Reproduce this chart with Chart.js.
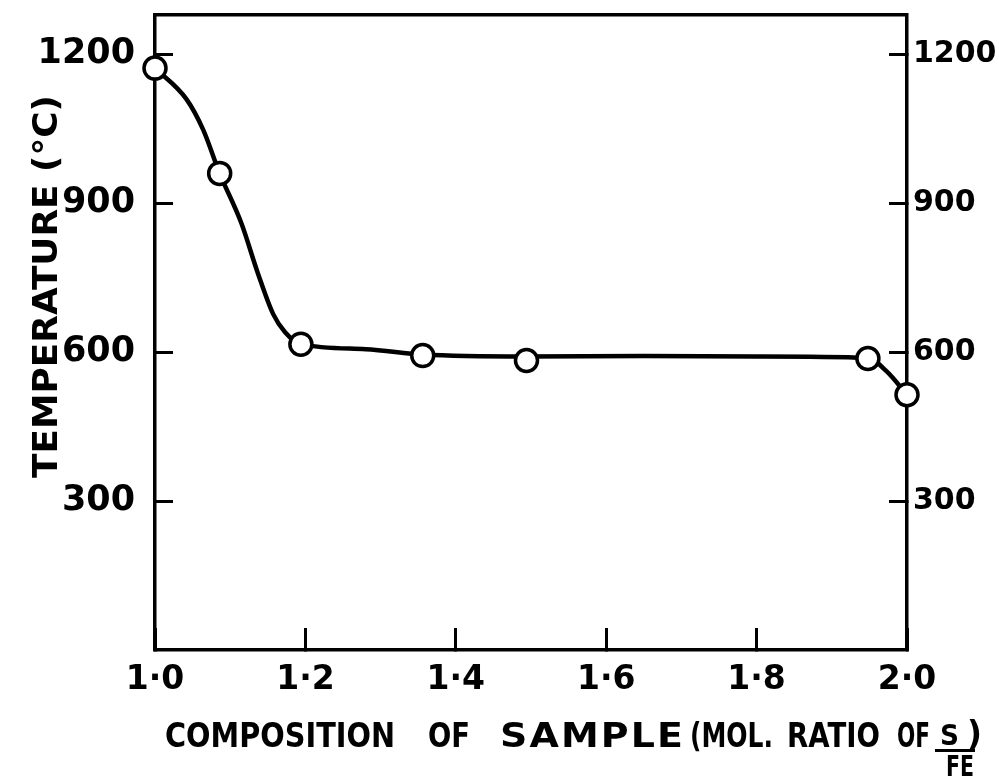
<!DOCTYPE html>
<html>
<head>
<meta charset="utf-8">
<script src="https://cdn.jsdelivr.net/npm/chart.js@4/dist/chart.umd.min.js"></script>
<style>
  html, body { margin: 0; padding: 0; background: #fff; }
  #wrap { width: 999px; height: 781px; }
</style>
</head>
<body>
<div id="wrap"><canvas id="chart" width="999" height="781"></canvas></div>
<script>
// measured samples (open circles)
const ratio = [1.0, 1.086, 1.194, 1.356, 1.494, 1.948, 2.0];
const temperature = [1172, 960, 616, 593, 583, 587, 514];

// course of the hand drawn curve
const curveRatio = [1.0, 1.042, 1.064, 1.086, 1.115, 1.137, 1.157, 1.173, 1.194, 1.28, 1.356, 1.494, 1.65, 1.8, 1.948, 1.973, 2.0];
const curveTemp = [1172, 1109, 1048, 960, 859, 758, 677, 640, 616, 606, 595, 591, 592, 591, 588, 561, 514];

const xTicks = [1.0, 1.2, 1.4, 1.6, 1.8, 2.0];
const xTickLabels = ['1·0', '1·2', '1·4', '1·6', '1·8', '2·0'];
const yTicks = [300, 600, 900, 1200];

const FAMILY = '"DejaVu Sans"';

const titles = {
  id: 'titles',
  afterDraw(chart) {
    const c = chart.ctx;
    // squeeze or widen a word so that it spans x0..x1
    const fit = (t, x0, x1, y, size) => {
      c.font = 'bold ' + size + 'px ' + FAMILY;
      c.letterSpacing = '0px';
      const w = c.measureText(t).width;
      const target = x1 - x0;
      let k = target / w;
      let gap = 0;
      if (k > 1.15 && t.length > 1) {
        k = 1.15;
        gap = (target - w * k) / (t.length - 1) / k;
      }
      c.save();
      c.translate(x0, y);
      c.scale(k, 1);
      c.letterSpacing = gap + 'px';
      c.fillText(t, 0, 0);
      c.restore();
      c.letterSpacing = '0px';
    };
    c.save();
    c.fillStyle = '#000';
    c.textBaseline = 'alphabetic';
    c.textAlign = 'left';

    // y title, bottom to top
    c.save();
    c.translate(57, 478);
    c.rotate(-Math.PI / 2);
    fit('TEMPERATURE (°C)', 0, 383, 0, 33);
    c.restore();

    // x title
    fit('COMPOSITION', 165, 395, 747, 33);
    fit('OF', 428, 470, 747, 33);
    fit('SAMPLE', 500, 683, 747, 33);
    fit('(MOL.', 690, 773, 747, 33);
    fit('RATIO', 787, 880, 747, 33);
    fit('OF', 897, 930, 747, 33);
    fit('S', 940, 959, 745, 28);
    fit('FE', 946, 974, 776, 28);
    fit(')', 967, 982, 745, 33);
    c.fillRect(935, 749, 40, 3);
    c.restore();
  }
};

const tickFont = (size) => ({ family: FAMILY, size: size, weight: 'bold' });
const noPad = s => { s.paddingTop = 0; s.paddingBottom = 0; s.paddingLeft = 0; s.paddingRight = 0; };

const ctx = document.getElementById('chart').getContext('2d');
new Chart(ctx, {
  type: 'scatter',
  data: {
    datasets: [{
      label: 'samples',
      data: ratio.map((x, i) => ({ x: x, y: temperature[i] })),
      showLine: false,
      pointRadius: 11,
      pointBorderWidth: 3.5,
      pointBackgroundColor: '#fff',
      pointBorderColor: '#000',
      clip: false
    }, {
      label: 'curve',
      data: curveRatio.map((x, i) => ({ x: x, y: curveTemp[i] })),
      showLine: true,
      borderColor: '#000',
      borderWidth: 4.5,
      pointRadius: 0,
      cubicInterpolationMode: 'monotone',
      clip: false
    }]
  },
  options: {
    responsive: false,
    animation: false,
    events: [],
    layout: { padding: 0 },
    plugins: { legend: { display: false }, tooltip: { enabled: false } },
    scales: {
      x: {
        type: 'linear', position: 'bottom', min: 1, max: 2,
        afterBuildTicks: s => { s.ticks = xTicks.map(v => ({ value: v })); },
        afterFit: s => { s.height = 131; noPad(s); },
        ticks: {
          autoSkip: false, maxRotation: 0, padding: 33, color: '#000',
          font: tickFont(33),
          callback: (v, i) => xTickLabels[i]
        },
        grid: { drawOnChartArea: false, tickLength: -22, tickWidth: 3, color: '#000' },
        border: { color: '#000', width: 3.5 }
      },
      xTop: {
        type: 'linear', position: 'top', min: 1, max: 2,
        afterFit: s => { s.height = 12; noPad(s); },
        ticks: { display: false },
        grid: { display: false, drawTicks: false },
        border: { display: true, color: '#000', width: 3.5 }
      },
      y: {
        type: 'linear', position: 'left', min: 0, max: 1280,
        afterBuildTicks: s => { s.ticks = yTicks.map(v => ({ value: v })); },
        afterFit: s => { s.width = 155; noPad(s); },
        ticks: { autoSkip: false, padding: 38, color: '#000', font: tickFont(35), callback: v => String(v) },
        grid: { drawOnChartArea: false, tickLength: -18, tickWidth: 3, color: '#000' },
        border: { color: '#000', width: 3.5 }
      },
      y2: {
        type: 'linear', position: 'right', min: 0, max: 1280,
        afterBuildTicks: s => { s.ticks = yTicks.map(v => ({ value: v })); },
        afterFit: s => { s.width = 92; noPad(s); },
        ticks: { autoSkip: false, padding: 24, color: '#000', font: tickFont(30), callback: v => String(v) },
        grid: { drawOnChartArea: false, tickLength: -18, tickWidth: 3, color: '#000' },
        border: { color: '#000', width: 3.5 }
      }
    }
  },
  plugins: [titles]
});
</script>
</body>
</html>
